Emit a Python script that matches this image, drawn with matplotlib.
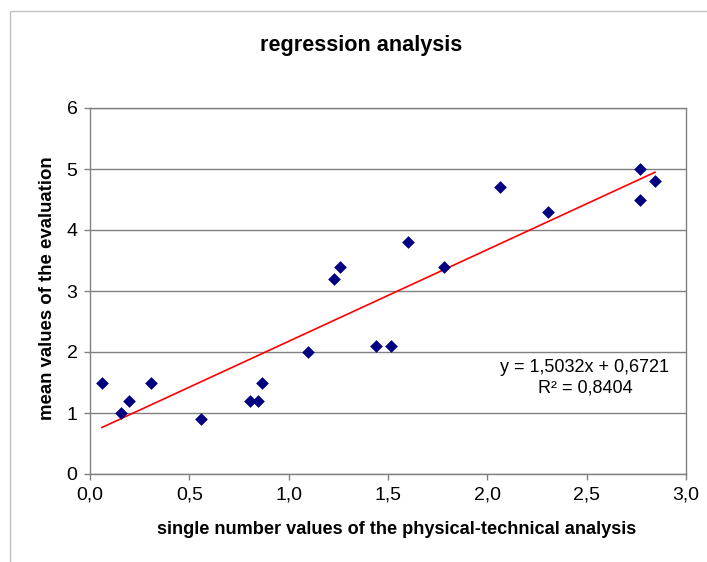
import matplotlib.pyplot as plt
from matplotlib.ticker import FuncFormatter, MultipleLocator
from matplotlib.patches import Rectangle
import numpy as np

plt.rcParams['font.family'] = ['Liberation Sans', 'DejaVu Sans']

# data
x_vals = [0.06, 0.156, 0.196, 0.307, 0.559, 0.805, 0.845, 0.866, 1.097, 1.23, 1.258,
          1.438, 1.515, 1.60, 1.78, 2.063, 2.307, 2.768, 2.768, 2.844]
y_vals = [1.5, 1.0, 1.2, 1.5, 0.9, 1.2, 1.2, 1.5, 2.0, 3.2, 3.4,
          2.1, 2.1, 3.8, 3.4, 4.7, 4.3, 5.0, 4.5, 4.8]
slope = 1.5032
intercept = 0.6721
r2 = 0.8404

W, H = 707, 562
fig = plt.figure(figsize=(W / 100, H / 100), dpi=100)
ax = fig.add_axes([90 / W, 1 - 474 / H, (686 - 90) / W, (474 - 108) / H])

# chart frame (Excel style)
fig.add_artist(Rectangle((10 / W, -0.05), 1.2, 1 - 11 / H + 0.05,
                         transform=fig.transFigure, fill=False,
                         edgecolor='#c0c0c0', linewidth=1))

ax.scatter(x_vals, y_vals, marker='D', s=42, color='#000080', zorder=3, linewidths=0)

xs = np.array([min(x_vals), max(x_vals)])
ax.plot(xs, slope * xs + intercept, color='#ff0000', linewidth=1.2, zorder=2)

eq = f"y = {slope:.4f}x + {intercept:.4f}".replace('.', ',') + '\n' + f"R² = {r2:.4f}".replace('.', ',')
ax.text(2.491, 1.574, eq, ha='center', va='center', fontsize=13, linespacing=1.3)

ax.set_xlim(0, 3)
ax.set_ylim(0, 6)
ax.xaxis.set_major_locator(MultipleLocator(0.5))
ax.yaxis.set_major_locator(MultipleLocator(1))
ax.xaxis.set_major_formatter(FuncFormatter(lambda v, p: f"{v:.1f}".replace('.', ',')))
ax.yaxis.set_major_formatter(FuncFormatter(lambda v, p: f"{v:.0f}"))
ax.tick_params(labelsize=14, color='#808080', length=4, width=1)
ax.tick_params(axis='x', pad=5)
ax.tick_params(axis='y', pad=5)

ax.grid(axis='y', color='#808080', linewidth=1)
ax.set_axisbelow(True)
for s in ax.spines.values():
    s.set_color('#808080')
    s.set_linewidth(1)

fig.text(361.5 / W, 1 - 45 / H, 'regression analysis', fontsize=15.6, fontweight='bold',
         ha='center', va='center')
fig.text(397 / W, 1 - 530 / H, 'single number values of the physical-technical analysis',
         fontsize=13.1, fontweight='bold', ha='center', va='center')
fig.text(47 / W, 1 - 288.5 / H, 'mean values of the evaluation', fontsize=13.4,
         fontweight='bold', ha='center', va='center', rotation=90)

plt.savefig('out.png', dpi=100)
